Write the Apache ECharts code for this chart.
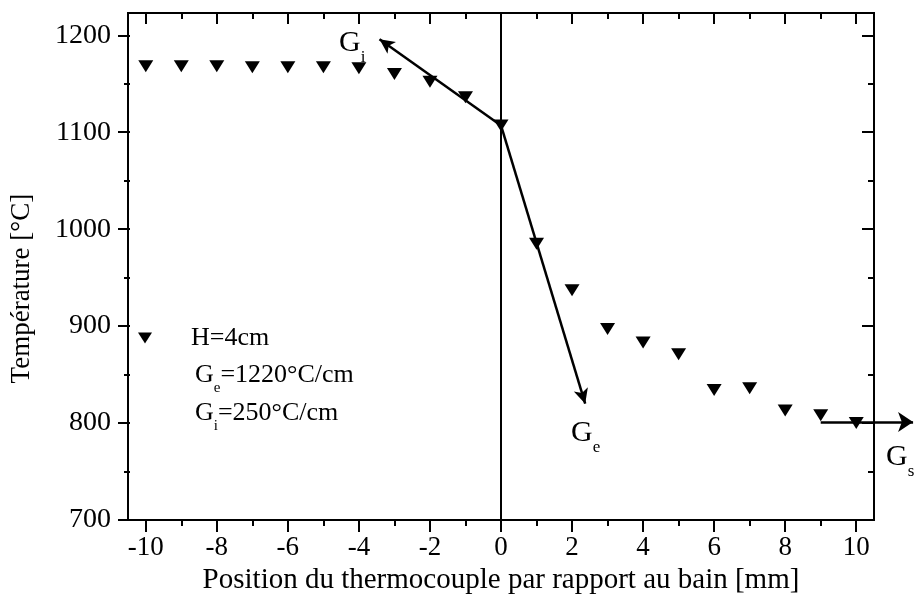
<!DOCTYPE html>
<html>
<head>
<meta charset="utf-8">
<script src="https://cdn.jsdelivr.net/npm/echarts@6/dist/echarts.min.js"></script>
<style>html,body{margin:0;padding:0;background:#fff}#c{width:917px;height:609px}</style>
</head>
<body>
<div id="c"></div>
<script>
// ---- data ----
var positions = [-10,-9,-8,-7,-6,-5,-4,-3,-2,-1,0,1,2,3,4,5,6,7,8,9,10];
var temperatures = [1168,1168,1168,1167,1167,1167,1166,1160,1152,1136,1107,985,937,897,883,871,834,836,813,808,800];
var seriesName = 'H=4cm';
var xTitle = 'Position du thermocouple par rapport au bain [mm]';
var yTitle = 'Température [°C]';
// gradient arrows: [start, end] in data units
var arrowGi = [[0, 1107], [-3.42, 1196]];
var arrowGe = [[0, 1107], [2.37, 820]];
var arrowGs = [[9, 801], [11.6, 801]];
var xRange = [-10.5, 10.5];
var yRange = [700, 1223];
var xTickRange = [-10, 10];
var yTickRange = [700, 1200];

var FONT = "'Liberation Serif','Times New Roman',serif";
var chart = echarts.init(document.getElementById('c'), null, {renderer: 'canvas'});

var pts = positions.map(function (x, i) { return [x, temperatures[i]]; });

// pixel layout
var gA = {left: 128, right: 43, top: 13, bottom: 89};
var plotW = 917 - gA.left - gA.right;
var pxX = plotW / (xRange[1] - xRange[0]);
var plotH = 609 - gA.top - gA.bottom;
var pxY = plotH / (yRange[1] - yRange[0]);
var gB = {left: gA.left + (xTickRange[0] - xRange[0]) * pxX, right: gA.right + (xRange[1] - xTickRange[1]) * pxX, top: gA.top, bottom: gA.bottom};
var gC = {left: gA.left, right: gA.right, top: gA.top + (yRange[1] - yTickRange[1]) * pxY, bottom: gA.bottom};

var tickStyle = {color: '#000', width: 2};
function richLabel(size, subSize, subPad) {
  return {
    g: {fontSize: size, lineHeight: size, verticalAlign: 'top', fontFamily: FONT, fill: '#000', color: '#000'},
    s: {fontSize: subSize, lineHeight: subSize, verticalAlign: 'top', padding: [subPad, 0, 0, 0], fontFamily: FONT, fill: '#000', color: '#000'}
  };
}
function gText(left, top, text, size, subSize, subPad) {
  return {type: 'text', left: left, top: top, style: {text: text, rich: richLabel(size, subSize, subPad), fill: '#000', font: size + 'px ' + FONT}};
}

var option = {
  animation: false,
  backgroundColor: '#fff',
  grid: [
    Object.assign({show: true, borderColor: '#000', borderWidth: 2, backgroundColor: 'transparent'}, gA),
    gB,
    gC
  ],
  legend: {
    data: [{name: seriesName, icon: 'path://M0,0 L14,0 L7,11 Z', itemStyle: {color: '#000', opacity: 1}}],
    left: 138, top: 325, padding: 0,
    itemWidth: 14, itemHeight: 11,
    textStyle: {fontSize: 26, fontFamily: FONT, color: '#000', padding: [0, 0, 0, 34]},
    selectedMode: false
  },
  xAxis: [
    {type: 'value', gridIndex: 0, min: xRange[0], max: xRange[1], show: false},
    {type: 'value', gridIndex: 1, position: 'bottom', min: xTickRange[0], max: xTickRange[1], interval: 2,
      axisLine: {show: false}, splitLine: {show: false},
      axisTick: {show: true, length: 12, lineStyle: tickStyle},
      minorTick: {show: true, splitNumber: 2, length: 6, lineStyle: tickStyle},
      axisLabel: {fontSize: 27, fontFamily: FONT, color: '#000', margin: 14},
      name: xTitle, nameLocation: 'middle', nameGap: 43,
      nameTextStyle: {fontSize: 29, fontFamily: FONT, color: '#000'}},
    {type: 'value', gridIndex: 1, position: 'top', min: xTickRange[0], max: xTickRange[1], interval: 2,
      axisLine: {show: false}, splitLine: {show: false},
      axisTick: {show: true, inside: true, length: 11, lineStyle: tickStyle},
      minorTick: {show: true, splitNumber: 2, length: 6, lineStyle: tickStyle},
      axisLabel: {show: false}},
    {type: 'value', gridIndex: 2, show: false}
  ],
  yAxis: [
    {type: 'value', gridIndex: 0, min: yRange[0], max: yRange[1], show: false},
    {type: 'value', gridIndex: 1, show: false},
    {type: 'value', gridIndex: 2, position: 'left', min: yTickRange[0], max: yTickRange[1], interval: 100,
      axisLine: {show: false}, splitLine: {show: false},
      axisTick: {show: true, length: 12, lineStyle: tickStyle},
      minorTick: {show: true, splitNumber: 2, length: 6, lineStyle: tickStyle},
      axisLabel: {fontSize: 28, fontFamily: FONT, color: '#000', margin: 19, formatter: function (v) { return String(v); }},
      name: yTitle, nameLocation: 'middle', nameGap: 95, nameRotate: 90,
      nameTextStyle: {fontSize: 27, fontFamily: FONT, color: '#000', padding: [0, 22, 0, 0]}},
    {type: 'value', gridIndex: 2, position: 'right', min: yTickRange[0], max: yTickRange[1], interval: 100,
      axisLine: {show: false}, splitLine: {show: false},
      axisTick: {show: true, inside: true, length: 12, lineStyle: tickStyle},
      minorTick: {show: true, splitNumber: 2, length: 6, lineStyle: tickStyle},
      axisLabel: {show: false}}
  ],
  series: [
    {
      name: seriesName, type: 'scatter', xAxisIndex: 0, yAxisIndex: 0,
      data: pts, symbol: 'triangle', symbolRotate: 180, symbolSize: [15, 12],
      itemStyle: {color: '#000', opacity: 1}, z: 5,
      markLine: {
        silent: true, animation: false,
        label: {show: false},
        lineStyle: {color: '#000', width: 2.5, type: 'solid'},
        symbol: ['none', 'none'],
        data: [
          [{xAxis: 0, yAxis: yRange[0], symbol: 'none', lineStyle: {width: 2}}, {xAxis: 0, yAxis: yRange[1], symbol: 'none'}],
          [{coord: arrowGi[0], symbol: 'none'}, {coord: arrowGi[1], symbol: 'arrow', symbolSize: [11, 15]}],
          [{coord: arrowGe[0], symbol: 'none'}, {coord: arrowGe[1], symbol: 'arrow', symbolSize: [11, 15]}]
        ]
      }
    },
    {
      name: 'Gs', type: 'lines', coordinateSystem: 'cartesian2d', xAxisIndex: 0, yAxisIndex: 0, clip: false,
      symbol: ['none', 'arrow'], symbolSize: [11, 15], silent: true, z: 4,
      lineStyle: {color: '#000', width: 2.5, opacity: 1},
      data: [{coords: arrowGs}]
    }
  ],
  graphic: [
    gText(339, 28, '{g|G}{s|i}', 30, 17, 21),
    gText(571, 418, '{g|G}{s|e}', 30, 17, 21),
    gText(886, 442, '{g|G}{s|s}', 30, 17, 21),
    gText(195, 362, '{g|G}{s|e}{g|=1220°C/cm}', 26, 15, 19),
    gText(195, 400, '{g|G}{s|i}{g|=250°C/cm}', 26, 15, 19)
  ]
};
chart.setOption(option);
</script>
</body>
</html>
